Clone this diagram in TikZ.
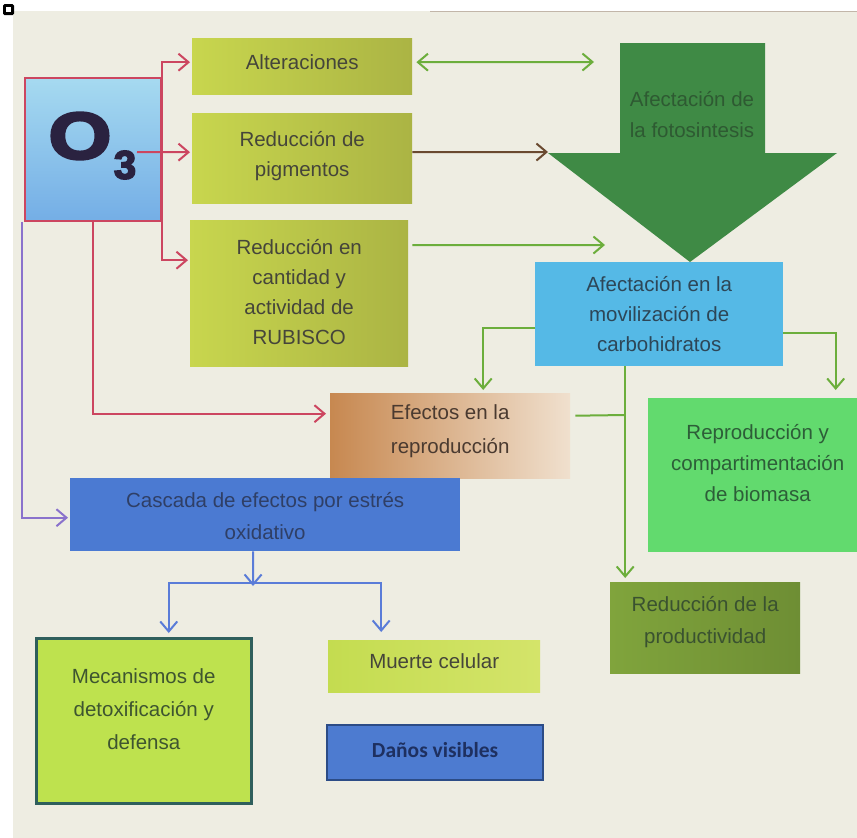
\documentclass[tikz,border=0pt]{standalone}
\usepackage{fontspec}
\setmainfont{Liberation Sans}
\newfontfamily\calfont{Carlito}
\newfontfamily\heavyfont[FakeBold=4]{Liberation Sans Bold}
\usetikzlibrary{arrows.meta}
\definecolor{bgc}{HTML}{EEEDE2}
\definecolor{yelA}{HTML}{C8D64E}
\definecolor{yelB}{HTML}{ABB444}
\definecolor{txtY}{HTML}{45453A}
\definecolor{redl}{HTML}{CC4660}
\definecolor{grl}{HTML}{6CAE3C}
\definecolor{brl}{HTML}{6A4A30}
\definecolor{bll}{HTML}{5A7CD8}
\definecolor{purl}{HTML}{8A72CC}
\definecolor{bigarr}{HTML}{3F8A45}
\definecolor{bigtxt}{HTML}{2E5A32}
\definecolor{movc}{HTML}{55B9E6}
\definecolor{movt}{HTML}{2D4657}
\definecolor{repc}{HTML}{62DA6E}
\definecolor{rept}{HTML}{2D5E38}
\definecolor{prodA}{HTML}{80A43C}
\definecolor{prodB}{HTML}{6E8E34}
\definecolor{prodt}{HTML}{3A5230}
\definecolor{casc}{HTML}{4B7AD2}
\definecolor{cast}{HTML}{2F3F66}
\definecolor{mecc}{HTML}{BEE24E}
\definecolor{mecb}{HTML}{2F5F5C}
\definecolor{mect}{HTML}{3E5530}
\definecolor{mucA}{HTML}{C4DC50}
\definecolor{mucB}{HTML}{D4E46A}
\definecolor{danc}{HTML}{4D7BD0}
\definecolor{danb}{HTML}{2C4C86}
\definecolor{dant}{HTML}{1E3060}
\definecolor{efeA}{HTML}{C78850}
\definecolor{efeB}{HTML}{F0E0CE}
\definecolor{efet}{HTML}{4A3A30}
\definecolor{oA}{HTML}{A6DAF0}
\definecolor{oB}{HTML}{74AEE6}
\definecolor{otxt}{HTML}{2A2240}
\tikzset{
  box/.style={anchor=north west, inner sep=0pt},
  txt/.style={inner sep=0pt, align=center, font=\fontsize{20.5}{30}\selectfont},
  yelbox/.style={box, left color=yelA, right color=yelB},
  tipb/.style={-{Straight Barb[length=10pt,width=17pt]}},
  redarrow/.style={draw=redl, line width=2pt, tipb},
  grarrow/.style={draw=grl, line width=2pt, tipb},
  grline/.style={draw=grl, line width=2pt},
  blarrow/.style={draw=bll, line width=2pt, tipb},
}
\begin{document}
\begin{tikzpicture}[x=1pt,y=-1pt]
\useasboundingbox (0,0) rectangle (857,838);
\fill[white] (0,0) rectangle (857,838);
\fill[bgc] (13,11) rectangle (857,838);
\draw[brl!60, line width=1pt, opacity=0.6] (430,11.5) -- (857,11.5);
\fill[black, rounded corners=1.5pt] (3,4) rectangle (14,15);
\fill[white] (6,7) rectangle (11,12);

% O3 box
\node[box, top color=oA, bottom color=oB, draw=redl, line width=1.6pt,
  minimum width=136pt, minimum height=143pt] (o3) at (24,77) {};
\node[text=otxt, inner sep=0pt, font=\heavyfont\fontsize{66}{66}\selectfont] (oletter) at (80,136) {\scalebox{1.22}[1]{O}};
\node[text=otxt, inner sep=0pt, font=\heavyfont\fontsize{40}{40}\selectfont] (three) at (125,165) {3};

% yellow boxes
\node[yelbox, minimum width=220pt, minimum height=56pt] (alt) at (192,38) {};
\node[txt, text=txtY] (alttext) at ([yshift=4pt]alt.center) {Alteraciones};
\node[yelbox, minimum width=220pt, minimum height=90pt] (pig) at (192,113) {};
\node[txt, text=txtY] (pigtext) at ([yshift=2pt]pig.center) {Reducción de\\pigmentos};
\node[yelbox, minimum width=218pt, minimum height=146pt] (rub) at (190,220) {};
\node[txt, text=txtY] (rubtext) at ([yshift=1pt]rub.center) {Reducción en\\cantidad y\\actividad de\\RUBISCO};

% big arrow
\fill[bigarr] (620,43) -- (765,43) -- (765,153) -- (837,153) -- (690,262)
  -- (548,153) -- (620,153) -- cycle;
\coordinate (bigL) at (548,152);
\coordinate (bigdbl) at (594,62);
\coordinate (bigrub) at (605,245);
\node[txt, text=bigtxt, font=\fontsize{20.5}{31}\selectfont] (foto) at (692,115) {Afectación de\\la fotosintesis};

% movilizacion
\node[box, fill=movc, minimum width=248pt, minimum height=104pt] (mov) at (535,262) {};
\node[txt, text=movt] (movtext) at (mov.center) {Afectación en la\\movilización de\\carbohidratos};

% efectos
\node[box, left color=efeA, right color=efeB, minimum width=240pt, minimum height=85pt] (efe) at (330,393) {};
\node[txt, text=efet, font=\fontsize{20.5}{34}\selectfont] (efetext) at ([yshift=5pt]efe.center) {Efectos en la\\reproducción};

% reproduccion y compartimentacion
\node[box, fill=repc, minimum width=209pt, minimum height=154pt] (rep) at (648,398) {};
\node[txt, text=rept, font=\fontsize{20.5}{31}\selectfont] (reptext) at ([yshift=12pt,xshift=5pt]rep.center) {Reproducción y\\compartimentación\\de biomasa};

% productividad
\node[box, left color=prodA, right color=prodB, minimum width=190pt, minimum height=91pt] (prod) at (610,582) {};
\node[txt, text=prodt, font=\fontsize{20.5}{32}\selectfont] (prodtext) at ([yshift=6pt]prod.center) {Reducción de la\\productividad};

% cascada
\node[box, fill=casc, minimum width=390pt, minimum height=73pt] (cas) at (70,478) {};
\node[txt, text=cast, font=\fontsize{20.5}{32}\selectfont] (castext) at ([yshift=-1pt]cas.center) {Cascada de efectos por estrés\\oxidativo};

% mecanismos
\node[box, fill=mecc, draw=mecb, line width=2.5pt, minimum width=215pt, minimum height=165pt] (mec) at (35,637) {};
\node[txt, text=mect, font=\fontsize{20.5}{33}\selectfont] (mectext) at ([yshift=12pt]mec.center) {Mecanismos de\\detoxificación y\\defensa};

% muerte
\node[box, left color=mucA, right color=mucB, minimum width=212pt, minimum height=52pt] (mue) at (328,640) {};
\node[txt, text=txtY] (muetext) at ([yshift=5pt]mue.center) {Muerte celular};

% danos
\node[box, fill=danc, draw=danb, line width=2.2pt, minimum width=216pt, minimum height=55pt] (dan) at (326,724) {};
\node[txt, text=dant, font=\calfont\bfseries\fontsize{21.5}{24}\selectfont] (dantext) at ([yshift=3pt]dan.center) {Daños visibles};

% red connectors
\draw[redarrow] (o3.north east) |- ([yshift=4pt,xshift=-2pt]alt.west);
\draw[redarrow] (o3.north east) |- ([yshift=33pt,xshift=-2pt]rub.west);
\coordinate (o3pig) at (137,152);
\draw[redarrow] (o3pig) -- ([yshift=6pt,xshift=-2pt]pig.west);
\draw[redarrow] (o3.south) |- ([yshift=22pt,xshift=-4pt]efe.west);
\draw[draw=purl, line width=2pt, tipb] ([xshift=-2pt]o3.south west) |- ([yshift=-3pt,xshift=-2pt]cas.west);

% green / brown connectors
\draw[grarrow, {Straight Barb[length=10pt,width=17pt]}-{Straight Barb[length=10pt,width=17pt]}]
  ([yshift=4pt,xshift=4pt]alt.east) -- (bigdbl);
\draw[draw=brl, line width=2pt, tipb] ([yshift=6pt]pig.east) -- (bigL);
\draw[grarrow] ([yshift=48pt,xshift=4pt]rub.east) -- (bigrub);

\draw[grarrow, shorten >=3pt] ([yshift=-14pt]mov.west) -| ([xshift=33pt]efe.north);
\draw[grarrow, shorten >=8pt] ([yshift=-19pt]mov.east) -| ([xshift=83pt]rep.north);
\coordinate (mid) at ([xshift=-34pt]mov.south);
\draw[grarrow, shorten >=4pt] (mid) -- (mid |- prod.north);
\coordinate (jn) at (mid |- 0,415);
\draw[grline] ([xshift=5pt,yshift=20pt]efe.east) -- (jn);

% blue connectors
\coordinate (split) at (253,583);
\draw[blarrow] ([xshift=-12pt]cas.south) -- ([yshift=-3pt]split);
\draw[blarrow, shorten >=4pt] (split) -| ([xshift=25pt]mec.north);
\draw[blarrow, shorten >=8pt] (split) -| ([xshift=-53pt]mue.north);
\end{tikzpicture}
\end{document}
